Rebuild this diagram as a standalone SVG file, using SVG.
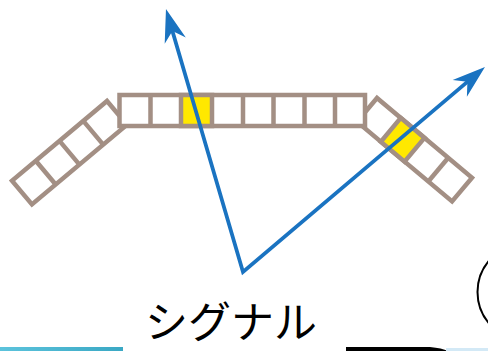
<svg xmlns="http://www.w3.org/2000/svg" width="488" height="351" viewBox="0 0 488 351">
<style>
.cell{fill:#ffffff;stroke:#a38f84;stroke-width:4.5;stroke-linejoin:miter}
.hot{fill:#ffe800;stroke:#a38f84;stroke-width:4.5}
.div{stroke:#a38f84;stroke-width:4.5;fill:none}
.ray{fill:none;stroke:#1a73c1;stroke-width:3.8;stroke-linejoin:miter;stroke-miterlimit:10}
.lbl{font-family:"Noto Sans CJK JP","Noto Sans",sans-serif;font-size:43px;fill:#000}
</style>
<defs>
<marker id="head" markerUnits="userSpaceOnUse" viewBox="-36 -13 38 26" markerWidth="38" markerHeight="26" refX="-20" refY="0" orient="auto-start-reverse">
<path d="M0,0 L-33,-11 L-23,0 L-33,11 Z" fill="#1a73c1"/>
</marker>
<linearGradient id="teal" x1="0" x2="1" y1="0" y2="0">
<stop offset="0" stop-color="#5cc3dc"/>
<stop offset="1" stop-color="#3aa8c4"/>
</linearGradient>
</defs>
<rect width="488" height="351" fill="#ffffff"/>

<g id="left-wing" transform="translate(107,101) rotate(140)">
<rect class="cell" x="0" y="-31" width="124" height="31"/>
<path class="div" d="M31,-31 V0 M62,-31 V0 M93,-31 V0"/>
</g>

<g id="right-wing" transform="translate(377,98) rotate(40)">
<rect class="cell" x="0" y="0" width="124" height="31"/>
<rect class="hot" x="31" y="0" width="31" height="31"/>
<path class="div" d="M93,0 V31"/>
</g>

<g id="center-strip">
<rect class="cell" x="119.5" y="95" width="245.5" height="31"/>
<rect class="hot" x="181" y="95" width="31" height="31"/>
<path class="div" d="M150.5,95 V126 M243,95 V126 M273.5,95 V126 M304.5,95 V126 M335,95 V126"/>
</g>

<g id="connectors">
<path class="ray" d="M171.6,28.2 L243,272 L469.7,79.9" marker-start="url(#head)" marker-end="url(#head)"/>
</g>

<g id="label">
<text class="lbl" x="145" y="338">シグナル</text>
</g>

<g id="edge-shapes">
<rect x="0" y="347" width="123" height="4" fill="url(#teal)"/>
<path d="M346,347 L430,347 Q442,348 448,351 L346,351 Z" fill="#000"/>
<rect x="446" y="348" width="42" height="3" fill="#d3e9f6"/>
<circle cx="526" cy="292" r="48.5" fill="none" stroke="#000" stroke-width="2"/>
</g>
</svg>
